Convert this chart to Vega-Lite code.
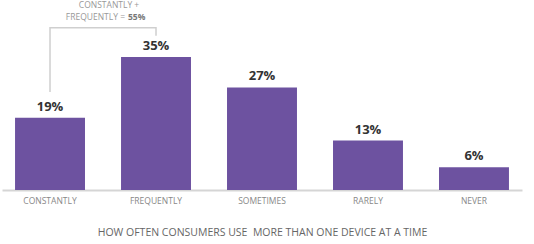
{
  "$schema": "https://vega.github.io/schema/vega-lite/v6.json",
  "width": 520,
  "height": 190,
  "autosize": {"type": "none"},
  "padding": {"left": 2, "top": 0, "right": 12, "bottom": 54},
  "background": "white",
  "config": {"view": {"stroke": null}, "font": "Open Sans"},
  "datasets": {
    "bars": [
      {"cat": "CONSTANTLY", "pct": 19, "label": "19%"},
      {"cat": "FREQUENTLY", "pct": 35, "label": "35%"},
      {"cat": "SOMETIMES", "pct": 27, "label": "27%"},
      {"cat": "RARELY", "pct": 13, "label": "13%"},
      {"cat": "NEVER", "pct": 6, "label": "6%"}
    ],
    "bracket": [
      {"cat": "CONSTANTLY", "v": 25.8, "o": 1},
      {"cat": "CONSTANTLY", "v": 42.7, "o": 2},
      {"cat": "FREQUENTLY", "v": 42.7, "o": 3},
      {"cat": "FREQUENTLY", "v": 40.6, "o": 4}
    ],
    "note1": [{"cat": "CONSTANTLY", "v": 48.7, "t": "CONSTANTLY +"}],
    "note2": [{"cat": "CONSTANTLY", "v": 45.4, "t": "FREQUENTLY =", "b": "55%"}]
  },
  "layer": [
    {
      "data": {"name": "bars"},
      "mark": {"type": "bar", "color": "#6d52a0"},
      "encoding": {
        "x": {
          "field": "cat", "type": "nominal", "sort": null,
          "scale": {"paddingInner": 0.34, "paddingOuter": 0.123},
          "axis": {
            "title": "HOW OFTEN CONSUMERS USE\u00a0 MORE THAN ONE DEVICE AT A TIME",
            "titleFont": "Open Sans", "titleFontSize": 10.5, "titleFontWeight": "normal",
            "titleColor": "#666", "titlePadding": 23,
            "labelAngle": 0, "labelFontSize": 8.5, "labelColor": "#888",
            "labelPadding": 6, "ticks": false,
            "domainColor": "#d5d5d5", "domainWidth": 2
          }
        },
        "y": {
          "field": "pct", "type": "quantitative",
          "scale": {"domain": [0, 50]}, "axis": null
        }
      }
    },
    {
      "data": {"name": "bars"},
      "mark": {"type": "text", "baseline": "bottom", "dy": -4, "fontSize": 13, "fontWeight": "bold", "color": "#333"},
      "encoding": {
        "x": {"field": "cat", "type": "nominal", "sort": null},
        "y": {"field": "pct", "type": "quantitative"},
        "text": {"field": "label"}
      }
    },
    {
      "data": {"name": "bracket"},
      "mark": {"type": "line", "color": "#cfcfcf", "strokeWidth": 1.5, "interpolate": "linear"},
      "encoding": {
        "x": {"field": "cat", "type": "nominal", "sort": null},
        "y": {"field": "v", "type": "quantitative"},
        "order": {"field": "o"}
      }
    },
    {
      "data": {"name": "note1"},
      "mark": {"type": "text", "align": "center", "baseline": "middle", "dx": 59, "fontSize": 8.5, "color": "#999"},
      "encoding": {
        "x": {"field": "cat", "type": "nominal", "sort": null},
        "y": {"field": "v", "type": "quantitative"},
        "text": {"field": "t"}
      }
    },
    {
      "data": {"name": "note2"},
      "mark": {"type": "text", "align": "right", "baseline": "middle", "dx": 75, "fontSize": 8.5, "color": "#999"},
      "encoding": {
        "x": {"field": "cat", "type": "nominal", "sort": null},
        "y": {"field": "v", "type": "quantitative"},
        "text": {"field": "t"}
      }
    },
    {
      "data": {"name": "note2"},
      "mark": {"type": "text", "align": "left", "baseline": "middle", "dx": 78, "fontSize": 8.5, "fontWeight": "bold", "color": "#777"},
      "encoding": {
        "x": {"field": "cat", "type": "nominal", "sort": null},
        "y": {"field": "v", "type": "quantitative"},
        "text": {"field": "b"}
      }
    }
  ]
}
